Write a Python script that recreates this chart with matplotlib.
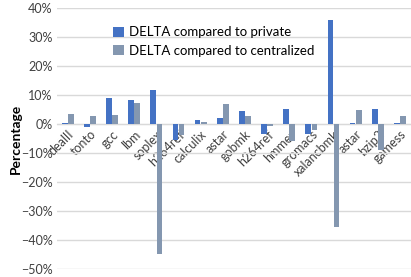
import numpy as np
import matplotlib
matplotlib.use("Agg")
import matplotlib.pyplot as plt
from matplotlib.ticker import PercentFormatter

plt.rcParams['font.family'] = ['Lato', 'DejaVu Sans']

benchmarks = ["dealII", "tonto", "gcc", "lbm", "soplex", "h264ref", "calculix", "astar",
              "gobmk", "h264ref", "hmmer", "gromacs", "xalancbmk", "astar", "bzip2", "gamess"]
vs_private = [0.4, -1.0, 9.0, 8.3, 11.6, -5.5, 1.4, 2.1,
              4.5, -3.3, 5.3, -3.3, 36.0, 0.3, 5.3, 0.3]
vs_central = [3.4, 2.8, 3.1, 7.1, -45.0, -3.8, 0.8, 6.9,
              2.8, -0.7, -5.7, -2.2, -35.5, 4.8, -9.0, 2.8]

blue = "#4472C4"
gray = "#8497B0"

fig = plt.figure(figsize=(4.11, 2.77), dpi=100)
ax = fig.add_axes([0.138, 0.029, 0.862, 0.942])

x = np.arange(len(benchmarks))
w = 0.26
ax.bar(x - 0.14, vs_private, w, color=blue, label="DELTA compared to private", zorder=3)
ax.bar(x + 0.14, vs_central, w, color=gray, label="DELTA compared to centralized", zorder=3)

ax.set_xlim(-0.5, len(benchmarks) - 0.5)
ax.set_ylim(-50, 40)
ax.set_yticks(np.arange(-50, 41, 10))
ax.yaxis.set_major_formatter(PercentFormatter(decimals=0))
ax.grid(axis="y", color="#D9D9D9", linewidth=1, zorder=0)

for s in ["top", "right", "left"]:
    ax.spines[s].set_visible(False)
ax.spines["bottom"].set_position(("data", 0))
ax.spines["bottom"].set_color("#D9D9D9")
ax.spines["bottom"].set_zorder(1)

ax.set_xticks(x)
ax.set_xticklabels(benchmarks, rotation=45, ha="right", va="top",
                   rotation_mode="anchor", fontsize=9, color="#404040")
ax.tick_params(axis="x", length=0, pad=3)
ax.tick_params(axis="y", length=0, labelsize=9, labelcolor="#404040", pad=3)

ax.set_ylabel("Percentage", fontsize=10, fontweight="bold")
ax.yaxis.set_label_coords(-0.098, 0.5)

ax.legend(loc="upper left", bbox_to_anchor=(0.145, 0.95), frameon=False,
          fontsize=9.5, handlelength=0.8, handleheight=0.8, handletextpad=0.4,
          labelspacing=0.5, borderaxespad=0)

fig.savefig("out.png", dpi=100)
